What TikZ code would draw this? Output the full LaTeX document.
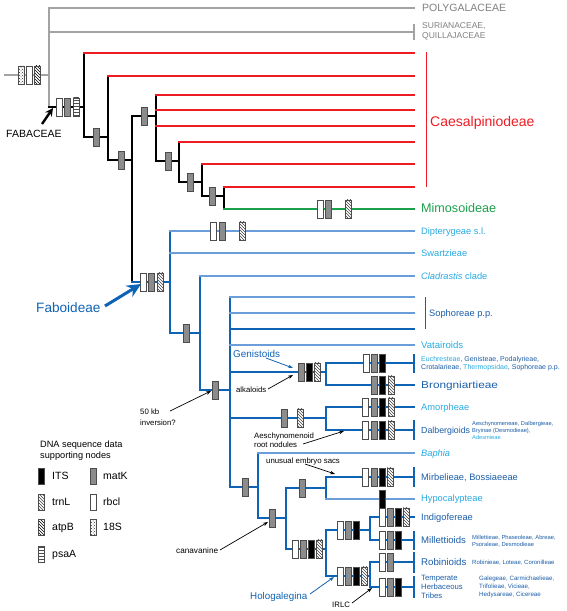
\documentclass[tikz,border=0pt]{standalone}
\usepackage{fontspec}
\setmainfont{Liberation Sans}
\usetikzlibrary{patterns,arrows.meta}
\definecolor{tg}{HTML}{A3A3A3}
\definecolor{tgt}{HTML}{7F7F7F}
\definecolor{cr}{HTML}{ED1C24}
\definecolor{cg}{HTML}{1BA14B}
\definecolor{cb}{HTML}{0F63B5}
\definecolor{cl}{HTML}{6A9DDA}
\definecolor{tl}{HTML}{27AAE1}
\definecolor{td}{HTML}{1A5DA8}
\newcounter{bxc}
\newcommand\gm[3]{\stepcounter{bxc}\node[#1] (bx\arabic{bxc}) at (#2,#3) {};}
\newcommand\fsz[1]{\fontsize{#1}{#1}\selectfont}
\begin{document}
\begin{tikzpicture}[x=1pt,y=-1pt,
  tl0/.style={line cap=rect},
  gr/.style={tl0,draw=tg,line width=2pt},
  bk/.style={tl0,draw=black,line width=2pt},
  rd/.style={tl0,draw=cr,line width=2pt},
  gn/.style={tl0,draw=cg,line width=2.2pt},
  db/.style={tl0,draw=cb,line width=2pt},
  lb/.style={tl0,draw=cl,line width=1.6pt},
  gb/.style={draw=black!70,line width=0.4pt,minimum width=5.5pt,minimum height=18.5pt,inner sep=0pt,outer sep=0pt},
  matk/.style={gb,fill=black!45},
  rbcl/.style={gb,fill=white},
  its/.style={gb,fill=black},
  trnl/.style={gb,preaction={fill=white},pattern=north west lines,pattern color=black!75},
  atpb/.style={gb,preaction={fill=white},pattern=north west lines,pattern color=black},
  sxviii/.style={gb,preaction={fill=white},pattern=crosshatch dots,pattern color=black!80},
  psaa/.style={gb,preaction={fill=white},pattern=horizontal lines,pattern color=black!70},
  lgd/.style={minimum height=16pt},
  lab/.style={anchor=west,inner sep=0pt,font=\fsz{#1},text height=0.72*#1pt,text depth=0pt},
  mlab/.style={anchor=west,inner sep=0pt,align=left},
  arr/.style={-{Stealth[length=5pt,width=3.6pt]},line width=0.7pt,draw=black},
  barr/.style={-{Stealth[length=5pt,width=3.6pt]},line width=0.8pt,draw=cb}
]
\useasboundingbox (0,0) rectangle (566,611);
% ---------- coordinates ----------
\coordinate (r0) at (5,75);
\coordinate (ros) at (49,75);
\coordinate (tPoly) at (414,8);
\coordinate (tSur) at (414,32);
\coordinate (n1) at (84,107);
\coordinate (c1) at (414,53);
\coordinate (n2) at (108,137);
\coordinate (c2) at (414,76);
\coordinate (n3) at (132,160);
\coordinate (n4) at (156,116);
\coordinate (c3) at (414,95);
\coordinate (c4) at (414,110);
\coordinate (c5) at (414,126);
\coordinate (n5) at (179,161);
\coordinate (c6) at (414,142);
\coordinate (n6) at (202,182);
\coordinate (c7) at (414,164);
\coordinate (n7) at (224,196);
\coordinate (c8) at (414,187);
\coordinate (mim) at (414,209);
\coordinate (fabo) at (170,282);
\coordinate (dip) at (414,231);
\coordinate (swa) at (414,253);
\coordinate (f2) at (200,333);
\coordinate (cla) at (414,276);
\coordinate (f3) at (230,390);
\coordinate (s1) at (414,297);
\coordinate (s2) at (414,313);
\coordinate (s3) at (414,329);
\coordinate (vat) at (414,345);
\coordinate (gen) at (326,372);
\coordinate (euc) at (414,363);
\coordinate (bro) at (414,385);
\coordinate (ad) at (326,418);
\coordinate (amo) at (414,407);
\coordinate (dal) at (414,430);
\coordinate (f4) at (258,487);
\coordinate (bap) at (414,453);
\coordinate (f5) at (286,518);
\coordinate (mh) at (326,488);
\coordinate (mir) at (414,477);
\coordinate (hyp) at (414,499);
\coordinate (f6) at (326,549);
\coordinate (im) at (370,530);
\coordinate (ind) at (414,517);
\coordinate (mil) at (414,540);
\coordinate (holo) at (370,576);
\coordinate (rob) at (414,562);
\coordinate (tem) at (414,587);
% ---------- gray outgroups ----------
\draw[gr] (r0) -- (ros);
\draw[gr] (ros |- tPoly) -- (ros |- n1);
\draw[gr] (ros |- tPoly) -- (tPoly);
\draw[gr] (ros |- tSur) -- (tSur);
\draw[draw=tg,line width=1.5pt] ([yshift=8pt]tSur) -- ([yshift=-8pt]tSur);
% ---------- black backbone ----------
\draw[bk] (ros |- n1) -- (n1);
\draw[bk] (n1 |- c1) -- (n1 |- n2);
\draw[bk] (n1 |- n2) -- (n2);
\draw[bk] (n2 |- c2) -- (n2 |- n3);
\draw[bk] (n2 |- n3) -- (n3);
\draw[bk] (n3 |- n4) -- (n3 |- fabo);
\draw[bk] (n3 |- n4) -- (n4);
\draw[bk] (n4 |- c3) -- (n4 |- n5);
\draw[bk] (n4 |- n5) -- (n5);
\draw[bk] (n5 |- c6) -- (n5 |- n6);
\draw[bk] (n5 |- n6) -- (n6);
\draw[bk] (n6 |- c7) -- (n6 |- n7);
\draw[bk] (n6 |- n7) -- (n7);
\draw[bk] (n7 |- c8) -- (n7 |- mim);
% ---------- red & green ----------
\draw[rd] (n1 |- c1) -- (c1);
\draw[rd] (n2 |- c2) -- (c2);
\draw[rd] (n4 |- c3) -- (c3);
\draw[rd] (n4 |- c4) -- (c4);
\draw[rd] (n4 |- c5) -- (c5);
\draw[rd] (n5 |- c6) -- (c6);
\draw[rd] (n6 |- c7) -- (c7);
\draw[rd] (n7 |- c8) -- (c8);
\draw[gn] (n7 |- mim) -- (mim);
\draw[draw=cr,line width=0.9pt] (426,52) -- (426,187);
% ---------- blue Faboideae ----------
\draw[db] (n3 |- fabo) -- (fabo);
\draw[db] (fabo |- dip) -- (fabo |- f2);
\draw[lb] (fabo |- dip) -- (dip);
\draw[lb] (fabo |- swa) -- (swa);
\draw[db] (fabo |- f2) -- (f2);
\draw[db] (f2 |- cla) -- (f2 |- f3);
\draw[lb] (f2 |- cla) -- (cla);
\draw[db] (f2 |- f3) -- (f3);
\draw[db] (f3 |- s1) -- (f3 |- f4);
\draw[lb] (f3 |- s1) -- (s1);
\draw[lb] (f3 |- s2) -- (s2);
\draw[db] (f3 |- s3) -- (s3);
\draw[lb] (f3 |- vat) -- (vat);
\draw[draw=cb,line width=0.9pt] (425,297) -- (425,329);
\draw[db] (f3 |- gen) -- (gen);
\draw[db] (gen |- euc) -- (gen |- bro);
\draw[db] (gen |- euc) -- (euc);
\draw[db] (gen |- bro) -- (bro);
\draw[db] (f3 |- ad) -- (ad);
\draw[db] (ad |- amo) -- (ad |- dal);
\draw[db] (ad |- amo) -- (amo);
\draw[db] (ad |- dal) -- (dal);
\draw[db] (f3 |- f4) -- (f4);
\draw[db] (f4 |- bap) -- (f4 |- f5);
\draw[lb] (f4 |- bap) -- (bap);
\draw[db] (f4 |- f5) -- (f5);
\draw[db] (f5 |- mh) -- (f5 |- f6);
\draw[db] (f5 |- mh) -- (mh);
\draw[db] (mh |- mir) -- (mh |- hyp);
\draw[db] (mh |- mir) -- (mir);
\draw[lb] (mh |- hyp) -- (hyp);
\draw[db] (f5 |- f6) -- (f6);
\draw[db] (f6 |- im) -- (f6 |- holo);
\draw[db] (f6 |- im) -- (im);
\draw[db] (im |- ind) -- (im |- mil);
\draw[db] (im |- ind) -- (ind);
\draw[db] (im |- mil) -- (mil);
\draw[db] (f6 |- holo) -- (holo);
\draw[db] (holo |- rob) -- (holo |- tem);
\draw[db] (holo |- rob) -- (rob);
\draw[db] (holo |- tem) -- (tem);
% brackets
\draw[db] ([yshift=8.5pt]euc) -- ([yshift=-8.5pt]euc);
\draw[db] ([yshift=9pt]dal) -- ([yshift=-9pt]dal);
\draw[db] ([yshift=9pt]mir) -- ([yshift=-9pt]mir);
\draw[db] ([yshift=8.5pt]mil) -- ([yshift=-8.5pt]mil);
\draw[db] ([yshift=9.5pt]rob) -- ([yshift=-9.5pt]rob);
\draw[db] ([yshift=10pt]tem) -- ([yshift=-10pt]tem);
% ---------- character boxes ----------
\gm{sxviii}{21}{75}\gm{rbcl}{29}{75}\gm{atpb}{37}{75}
\gm{rbcl}{59}{107}\gm{matk}{67}{107}\gm{psaa}{76}{107}
\gm{matk}{96}{137}
\gm{matk}{121}{160}
\gm{matk}{144}{116}
\gm{matk}{168}{161}
\gm{matk}{190}{182}
\gm{matk}{212}{196}
\gm{rbcl}{320}{209}\gm{matk}{328}{209}\gm{trnl}{348}{209}
\gm{rbcl}{143}{282}\gm{matk}{151}{282}\gm{trnl}{160}{282}
\gm{rbcl}{213}{231}\gm{matk}{222}{231}\gm{trnl}{242}{231}
\gm{matk}{186}{333}
\gm{matk}{215}{390}
\gm{matk}{301}{372}\gm{its}{309}{372}\gm{trnl}{317}{372}
\gm{rbcl}{366}{363}\gm{matk}{374}{363}\gm{its}{382}{363}
\gm{matk}{374}{385}\gm{its}{382}{385}\gm{trnl}{391}{385}
\gm{matk}{284}{418}\gm{trnl}{300}{418}
\gm{rbcl}{365}{407}\gm{matk}{374}{407}\gm{its}{382}{407}\gm{trnl}{391}{407}
\gm{rbcl}{365}{430}\gm{matk}{374}{430}\gm{its}{382}{430}\gm{trnl}{391}{430}
\gm{matk}{245}{487}
\gm{matk}{272}{518}
\gm{matk}{302}{488}
\gm{rbcl}{365}{477}\gm{matk}{374}{477}\gm{its}{382}{477}\gm{trnl}{390}{477}
\gm{its}{382}{499}
\gm{rbcl}{295}{549}\gm{matk}{303}{549}\gm{its}{311}{549}\gm{trnl}{319}{549}
\gm{rbcl}{340}{530}\gm{matk}{348}{530}\gm{its}{356}{530}
\gm{rbcl}{382}{517}\gm{matk}{390}{517}\gm{its}{398}{517}\gm{trnl}{406}{517}
\gm{rbcl}{382}{540}\gm{matk}{390}{540}\gm{its}{398}{540}
\gm{rbcl}{340}{576}\gm{matk}{348}{576}\gm{its}{356}{576}\gm{trnl}{364}{576}
\gm{rbcl}{382}{562}\gm{matk}{390}{562}
\gm{rbcl}{382}{587}\gm{matk}{390}{587}\gm{its}{398}{587}
% ---------- tip labels ----------
\node[lab=10.5,text=tgt] (lPoly) at (422,8) {POLYGALACEAE};
\node[mlab,text=tgt,font=\fontsize{8.5}{10}\selectfont] (lSur) at (422,31) {SURIANACEAE,\\QUILLAJACEAE};
\node[lab=14,text=cr] (lCae) at (430,121) {Caesalpiniodeae};
\node[lab=12.6,text=cg] (lMim) at (421,208) {Mimosoideae};
\node[lab=9.3,text=tl] (lDip) at (421,231) {Dipterygeae s.l.};
\node[lab=9.3,text=tl] (lSwa) at (421,253) {Swartzieae};
\node[lab=9.3,text=tl] (lCla) at (421,276) {\textit{Cladrastis} clade};
\node[lab=9.3,text=td] (lSop) at (429,313) {Sophoreae p.p.};
\node[lab=9.6,text=tl] (lVat) at (421,345) {Vatairoids};
\node[mlab,text=td,font=\fontsize{7}{8.5}\selectfont] (lEuc) at (421,363.5) {\textcolor{tl}{Euchresteae}, Genisteae, Podalyrieae,\\Crotalarieae, \textcolor{tl}{Thermopsidae}, Sophoreae p.p.};
\node[lab=10,text=td] (lBro) at (421,385) {\scalebox{1.18}[1]{Brongniartieae}};
\node[lab=9.3,text=tl] (lAmo) at (421,407) {Amorpheae};
\node[lab=8.8,text=td] (lDal) at (421,430) {Dalbergioids};
\node[mlab,text=td,font=\fontsize{5.7}{6.6}\selectfont] (lDal2) at (472,430.5) {Aeschynomeneae, Dalbergieae,\\Bryinae (Desmodieae),\\\textcolor{tl}{Adesmieae}};
\node[lab=9.3,text=tl] (lBap) at (421,453) {\textit{Baphia}};
\node[lab=9.3,text=td] (lMir) at (421,477) {Mirbelieae, Bossiaeeae};
\node[lab=9.3,text=tl] (lHyp) at (421,498) {Hypocalypteae};
\node[lab=9.3,text=td] (lInd) at (421,517) {Indigofereae};
\node[lab=9.6,text=td] (lMil) at (421,540) {Millettioids};
\node[mlab,text=td,font=\fontsize{5.8}{7.3}\selectfont] (lMil2) at (472,541.5) {Millettieae, Phaseoleae, Abreae,\\Psoraleae, Desmodieae};
\node[lab=9.7,text=td] (lRob) at (421,562) {Robinioids};
\node[lab=6,text=td] (lRob2) at (472,562) {Robinieae, Loteae, Coronilleae};
\node[mlab,text=td,font=\fontsize{7.7}{9}\selectfont] (lTem) at (421,587) {Temperate\\Herbaceous\\Tribes};
\node[mlab,text=td,font=\fontsize{6.2}{8}\selectfont] (lTem2) at (479,587) {Galegeae, Carmichaelieae,\\Trifolieae, Vicieae,\\Hedysareae, Cicereae};
% ---------- clade labels and arrows ----------
\node[lab=10.5] (lFab) at (6,134) {FABACEAE};
\coordinate (fabT) at (42,124);
\coordinate (fabH) at (53,108);
\draw[line width=2.4pt,-{Stealth[length=8pt,width=8pt]}] (fabT) -- (fabH);
\node[lab=13.6,text=cb] (lFabo) at (36,308) {Faboideae};
\coordinate (faboT) at (105,306);
\coordinate (faboH) at (141,284);
\draw[line width=3pt,draw=cb,-{Stealth[length=14pt,width=13pt]}] (faboT) -- (faboH);
\node[lab=9.9,text=cb] (lGen) at (233,354) {Genistoids};
\coordinate (genT) at (266,358);
\coordinate (genH) at (293,368);
\draw[barr] (genT) -- (genH);
\node[lab=7.7] (lAlk) at (236,390) {alkaloids};
\coordinate (alkT) at (268,389);
\coordinate (alkH) at (293,375);
\draw[arr] (alkT) -- (alkH);
\node[mlab,font=\fontsize{7.8}{9}\selectfont] (lAes) at (254,440.5) {Aeschynomenoid\\root nodules};
\coordinate (aesT) at (303,444);
\coordinate (aesH) at (344,431);
\draw[arr] (aesT) -- (aesH);
\node[lab=7.8] (lEmb) at (266,461) {unusual embryo sacs};
\coordinate (embT) at (305,464);
\coordinate (embH) at (335,474);
\draw[arr] (embT) -- (embH);
\node[mlab,font=\fontsize{7.8}{11}\selectfont] (lInv) at (140,417) {50 kb\\inversion?};
\coordinate (invT) at (170,411);
\coordinate (invH) at (211,391);
\draw[arr] (invT) -- (invH);
\node[lab=8.2] (lCan) at (176,551) {canavanine};
\coordinate (canT) at (220,550);
\coordinate (canH) at (268,522);
\draw[arr] (canT) -- (canH);
\node[lab=9.8,text=cb] (lHol) at (250,596) {Hologalegina};
\coordinate (holT) at (310,594);
\coordinate (holH) at (334,577);
\draw[barr] (holT) -- (holH);
\node[lab=7.8] (lIrl) at (332,605) {IRLC};
\coordinate (irlT) at (352,603);
\coordinate (irlH) at (372,588);
\draw[arr] (irlT) -- (irlH);
% ---------- legend ----------
\node[mlab,font=\fontsize{9.2}{11.5}\selectfont] (lgT) at (40,450.5) {DNA sequence data\\supporting nodes};
\node[its,lgd] (lg1) at (41,476) {};
\node[lab=10.5] (lg1t) at (52,476) {ITS};
\node[matk,lgd] (lg2) at (93,476) {};
\node[lab=10.5] (lg2t) at (103,476) {matK};
\node[trnl,lgd] (lg3) at (41,502) {};
\node[lab=10.5] (lg3t) at (52,502) {trnL};
\node[rbcl,lgd] (lg4) at (93,502) {};
\node[lab=10.5] (lg4t) at (103,502) {rbcl};
\node[atpb,lgd] (lg5) at (41,527) {};
\node[lab=10.5] (lg5t) at (52,527) {atpB};
\node[sxviii,lgd] (lg6) at (93,527) {};
\node[lab=10.5] (lg6t) at (103,527) {18S};
\node[psaa,lgd] (lg7) at (41,554) {};
\node[lab=10.5] (lg7t) at (52,554) {psaA};
\end{tikzpicture}
\end{document}
